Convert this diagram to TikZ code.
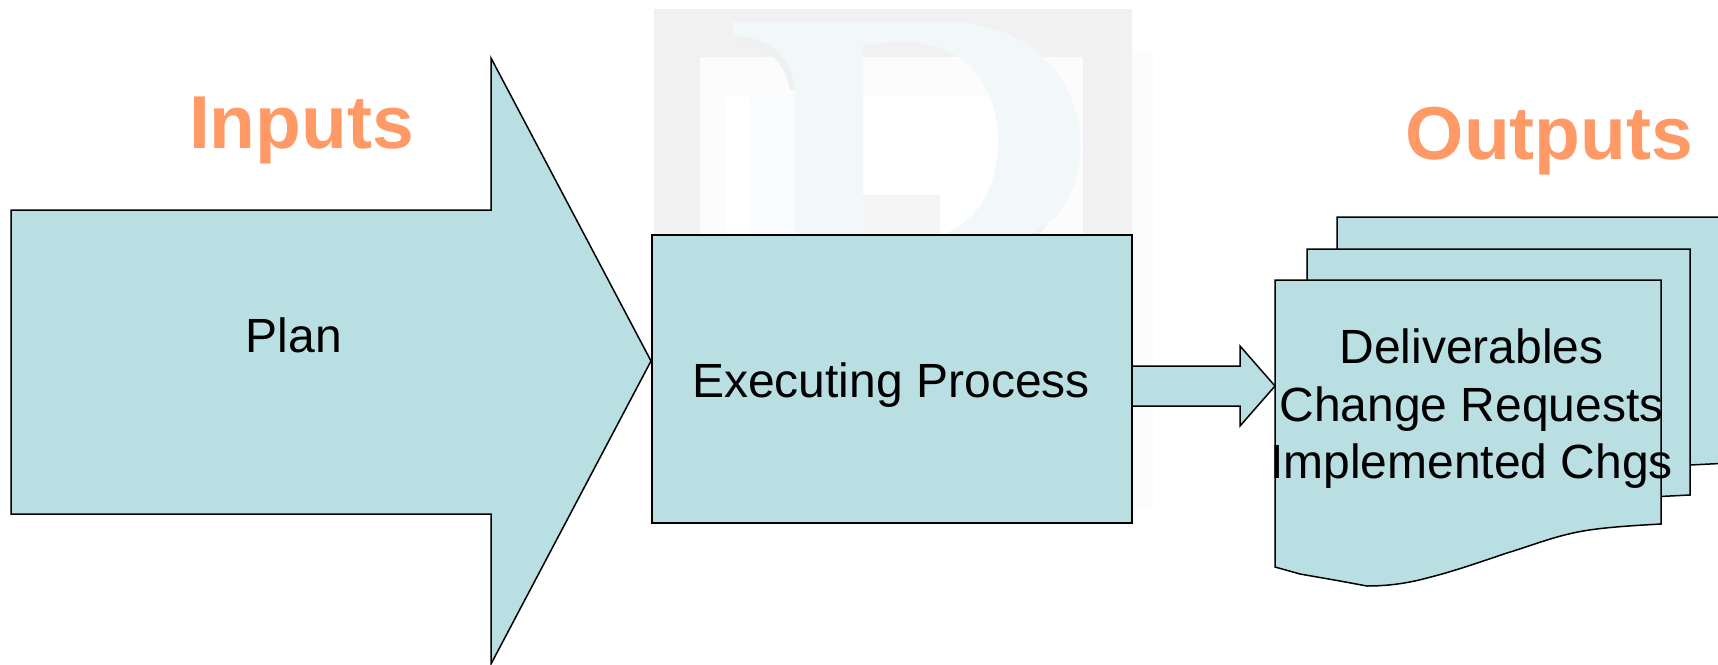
\documentclass[tikz,border=0pt]{standalone}
\usepackage{fontspec}
\setmainfont{Liberation Sans}
\definecolor{shapefill}{HTML}{B9DFE3}
\definecolor{headcol}{HTML}{FF9966}
\definecolor{wmgray}{HTML}{F1F1F1}
\definecolor{wmwhite}{HTML}{FCFCFC}
\definecolor{wmblue}{HTML}{F2F8FA}
\definecolor{wmpale}{HTML}{F9FCFD}
\definecolor{wmshade}{HTML}{EFF0F0}
\tikzset{
  shapebox/.style={draw=black,line width=1.5pt,fill=shapefill,line join=miter},
  lbl/.style={anchor=base,inner sep=0pt,font=\fontsize{48}{48}\selectfont,text=black},
  head/.style={anchor=base,inner sep=0pt,font=\fontsize{75}{75}\selectfont\bfseries,text=headcol}
}
\begin{document}
\begin{tikzpicture}[x=1pt,y=-1pt]
\useasboundingbox (0,0) rectangle (1718,664);
\begin{scope}
\clip (0,0) rectangle (1718,664);
% watermark
\fill[wmwhite] (1132,50) rectangle (1153,510);
\fill[wmgray] (654,9) rectangle (1132,234);
\fill[wmwhite] (700,57) rectangle (1083,234);
\fill[white] (725,97) rectangle (1000,234);
\fill[wmpale] (750,97) rectangle (795,234);
\fill[wmgray!70!white] (863,195) rectangle (940,234);
\fill[wmshade] (735,36) .. controls (775,38) and (793,60) .. (795,90) -- (790,90)
  .. controls (785,65) and (770,45) .. (735,40) -- cycle;
\fill[wmshade] (1040,60) .. controls (1085,90) and (1086,170) .. (1040,234) -- (1030,234)
  .. controls (1060,220) and (1080,190) .. (1080,145) .. controls (1080,110) and (1065,80) .. (1040,60) -- cycle;
\fill[wmblue] (731,22) -- (960,22) .. controls (1040,30) and (1080,85) .. (1080,145)
  .. controls (1080,190) and (1060,220) .. (1030,234) -- (945,234)
  .. controls (985,215) and (998,180) .. (998,140)
  .. controls (998,90) and (970,42) .. (900,41)
  -- (863,45) -- (863,234) -- (795,234) -- (795,90)
  .. controls (793,60) and (775,38) .. (735,36) -- cycle;
% shapes
\draw[shapebox] (1337,217) -- (1730,217) -- (1730,463) -- (1690,465) -- (1337,465) -- cycle;
\draw[shapebox] (1307,249) -- (1690,249) -- (1690,495) -- (1650,497) -- (1307,497) -- cycle;
\draw[shapebox] (1275,280) -- (1661,280) -- (1661,524)
  .. controls (1625,526) and (1595,528) .. (1573,533)
  .. controls (1550,538) and (1530,546) .. (1507,553)
  .. controls (1480,562) and (1455,571) .. (1427,578)
  .. controls (1405,584) and (1385,586) .. (1367,586)
  -- (1340,581) -- (1300,574) -- (1275,567) -- cycle;
\draw[shapebox] (11,210) -- (491,210) -- (491,58) -- (651,361) -- (491,664) -- (491,514) -- (11,514) -- cycle;
\draw[shapebox] (1131,366) -- (1240,366) -- (1240,346) -- (1275,386) -- (1240,426) -- (1240,406) -- (1131,406) -- cycle;
\node[shapebox,line width=2pt,minimum width=480pt,minimum height=288pt,inner sep=0pt,anchor=north west] (exec) at (651,234) {};
\end{scope}
\node[head] (inputs) at (301.5,148) {Inputs};
\node[head] (outputs) at (1549.5,159) {Outputs};
\node[lbl] (plan) at (294,352) {Plan};
\node[lbl] (execl) at (891,397) {Executing Process};
\node[lbl] (d1) at (1471.5,363) {Deliverables};
\node[lbl] (d2) at (1471.5,421) {Change Requests};
\node[lbl] (d3) at (1471.5,478) {Implemented Chgs};
\end{tikzpicture}
\end{document}
